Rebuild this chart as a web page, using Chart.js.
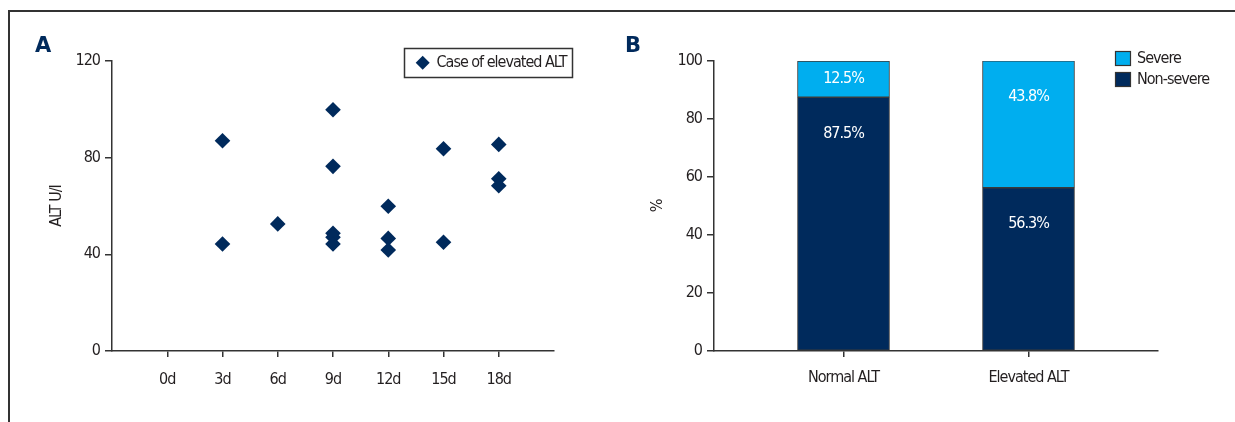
<!DOCTYPE html>
<html>
<head>
<meta charset="utf-8">
<script src="https://cdn.jsdelivr.net/npm/chart.js@4/dist/chart.umd.min.js"></script>
<style>
  html, body { margin: 0; padding: 0; background: #fff; }
  body { width: 1235px; height: 422px; position: relative; overflow: hidden; }
  #frame { position: absolute; left: 8px; top: 10px; width: 1240px; height: 430px;
           border-top: 2px solid #333; border-left: 2px solid #333; }
  .panel { position: absolute; top: 0; height: 422px; }
  #wa { left: 0; width: 620px; }
  #wb { left: 620px; width: 615px; }
</style>
</head>
<body>
<div id="frame"></div>
<div class="panel" id="wa"><canvas id="ca" width="620" height="422"></canvas></div>
<div class="panel" id="wb"><canvas id="cb" width="615" height="422"></canvas></div>
<script>
// ---- Panel A: ALT values of elevated cases by day ----
const dayValues = [0, 3, 6, 9, 12, 15, 18];
const dayTicks = ['0d', '3d', '6d', '9d', '12d', '15d', '18d'];
const caseDay = [3, 3, 6, 9, 9, 9, 9, 9, 12, 12, 12, 15, 15, 18, 18, 18];
const caseALT = [87, 44.3, 52.6, 99.8, 76.4, 48.7, 47.1, 44.3, 59.9, 46.6, 41.8, 83.7, 45, 85.5, 71.3, 68.4];
const seriesLabelA = 'Case of elevated ALT';

// ---- Panel B: severity share by ALT group ----
const groups = ['Normal ALT', 'Elevated ALT'];
const groupPos = [0, 1];
const nonSevere = [87.5, 56.3];
const severe = [12.5, 43.8];

const FONT = "'Liberation Sans Narrow', 'Arial Narrow', 'DejaVu Sans Condensed', sans-serif";
const FSIZE = 16;
const NAVY = '#002a5c';
const CYAN = '#00aeef';
const AX = '#333333';
const TXT = '#231f20';

Chart.defaults.font.family = FONT;
Chart.defaults.font.size = FSIZE;
Chart.defaults.color = TXT;

// tighter tracking so the condensed face sits closer to a narrow sans
const tightText = {
  id: 'tightText',
  beforeDraw(chart) { if ('letterSpacing' in chart.ctx) chart.ctx.letterSpacing = '-1px'; }
};

function panelLetter(letter, x, baseline) {
  return {
    id: 'letter' + letter,
    afterDraw(chart) {
      const ctx = chart.ctx;
      ctx.save();
      if ('letterSpacing' in ctx) ctx.letterSpacing = '0px';
      ctx.font = "bold 21px 'DejaVu Sans', sans-serif";
      ctx.fillStyle = NAVY;
      ctx.textBaseline = 'alphabetic';
      ctx.textAlign = 'left';
      ctx.fillText(letter, x, baseline);
      ctx.restore();
    }
  };
}

function diamond(ctx, cx, cy, r) {
  ctx.beginPath();
  ctx.moveTo(cx - r, cy);
  ctx.lineTo(cx, cy - r);
  ctx.lineTo(cx + r, cy);
  ctx.lineTo(cx, cy + r);
  ctx.closePath();
  ctx.fill();
}

// boxed legend in the top-right corner of panel A
const legendA = {
  id: 'legendA',
  afterDraw(chart) {
    const ctx = chart.ctx;
    const ds = chart.data.datasets[0];
    ctx.save();
    ctx.strokeStyle = AX;
    ctx.lineWidth = 1.5;
    ctx.strokeRect(404.5, 48.5, 168, 29);
    ctx.fillStyle = ds.backgroundColor;
    diamond(ctx, 422.7, 62.7, 7);
    ctx.fillStyle = TXT;
    ctx.font = FSIZE + 'px ' + FONT;
    ctx.textBaseline = 'middle';
    ctx.textAlign = 'left';
    ctx.fillText(ds.label, 436.5, 63);
    ctx.restore();
  }
};

new Chart(document.getElementById('ca'), {
  type: 'scatter',
  data: {
    datasets: [{
      label: seriesLabelA,
      data: caseDay.map((d, i) => ({ x: d, y: caseALT[i] })),
      pointStyle: 'rectRot',
      pointRadius: 7.8,
      pointHoverRadius: 7.8,
      backgroundColor: NAVY,
      borderColor: NAVY,
      borderWidth: 0
    }]
  },
  options: {
    responsive: false,
    animation: false,
    events: [],
    layout: { padding: { top: 61, right: 66, bottom: 0, left: 0 } },
    plugins: { legend: { display: false }, tooltip: { enabled: false } },
    scales: {
      x: {
        type: 'linear', min: -3, max: 21,
        afterBuildTicks: ax => { ax.ticks = dayValues.map(v => ({ value: v })); },
        afterFit: ax => { ax.height = 71; },
        ticks: { callback: v => dayTicks[dayValues.indexOf(v)], padding: 13, maxRotation: 0, autoSkip: false, color: TXT },
        grid: { drawOnChartArea: false, tickLength: 6, color: AX, lineWidth: 1.5 },
        border: { color: AX, width: 1.5 }
      },
      y: {
        min: 0, max: 120,
        afterFit: ax => { ax.width = 112; },
        ticks: { stepSize: 40, padding: 5, color: TXT },
        grid: { drawOnChartArea: false, tickLength: 7, color: AX, lineWidth: 1.5 },
        border: { color: AX, width: 1.5 },
        title: { display: true, text: 'ALT U/I', color: TXT, padding: { top: 47 } }
      }
    }
  },
  plugins: [tightText, legendA, panelLetter('A', 35, 52)]
});

// legend and in-bar percentage labels for panel B
const legendB = {
  id: 'legendB',
  afterDraw(chart) {
    const ctx = chart.ctx;
    const items = [chart.data.datasets[1], chart.data.datasets[0]];
    ctx.save();
    ctx.font = FSIZE + 'px ' + FONT;
    ctx.textBaseline = 'middle';
    ctx.textAlign = 'left';
    items.forEach((ds, k) => {
      const top = 51 + k * 21;
      ctx.fillStyle = ds.backgroundColor;
      ctx.fillRect(495, top, 16, 15);
      ctx.strokeStyle = AX;
      ctx.lineWidth = 1.2;
      ctx.strokeRect(495.5, top + 0.5, 15, 14);
      ctx.fillStyle = TXT;
      ctx.fillText(ds.label, 517, top + 8);
    });
    ctx.restore();
  }
};

const barLabels = {
  id: 'barLabels',
  afterDatasetsDraw(chart) {
    const ctx = chart.ctx;
    const yScale = chart.scales.y;
    ctx.save();
    ctx.font = FSIZE + 'px ' + FONT;
    ctx.fillStyle = '#ffffff';
    ctx.textAlign = 'center';
    ctx.textBaseline = 'middle';
    chart.data.datasets.forEach((ds, di) => {
      const meta = chart.getDatasetMeta(di);
      meta.data.forEach((bar, i) => {
        const v = ds.data[i].y;
        let base = 0;
        for (let k = 0; k < di; k++) base += chart.data.datasets[k].data[i].y;
        const labelVal = base + v - Math.min(v / 2, 12.5);
        ctx.fillText(v.toFixed(1) + '%', bar.x, yScale.getPixelForValue(labelVal));
      });
    });
    ctx.restore();
  }
};

const barCommon = { barThickness: 92, borderWidth: 1, borderColor: '#3a3a3a', borderSkipped: false };

new Chart(document.getElementById('cb'), {
  type: 'bar',
  data: {
    datasets: [
      Object.assign({ label: 'Non-severe', data: groupPos.map((x, i) => ({ x, y: nonSevere[i] })), backgroundColor: NAVY }, barCommon),
      Object.assign({ label: 'Severe', data: groupPos.map((x, i) => ({ x, y: severe[i] })), backgroundColor: CYAN }, barCommon)
    ]
  },
  options: {
    responsive: false,
    animation: false,
    events: [],
    layout: { padding: { top: 61, right: 77, bottom: 0, left: 0 } },
    plugins: { legend: { display: false }, tooltip: { enabled: false } },
    scales: {
      x: {
        type: 'linear', min: -0.7, max: 1.7, stacked: true, offset: false,
        afterBuildTicks: ax => { ax.ticks = groupPos.map(v => ({ value: v })); },
        afterFit: ax => { ax.height = 71; },
        ticks: { callback: v => groups[groupPos.indexOf(v)], padding: 11, maxRotation: 0, autoSkip: false, color: TXT },
        grid: { offset: false, drawOnChartArea: false, tickLength: 6, color: AX, lineWidth: 1.5 },
        border: { color: AX, width: 1.5 }
      },
      y: {
        stacked: true, min: 0, max: 100,
        afterFit: ax => { ax.width = 94; },
        ticks: { stepSize: 20, padding: 5, color: TXT },
        grid: { drawOnChartArea: false, tickLength: 7, color: AX, lineWidth: 1.5 },
        border: { color: AX, width: 1.5 },
        title: { display: true, text: '%', color: TXT, padding: { top: 28 } }
      }
    }
  },
  plugins: [tightText, barLabels, legendB, panelLetter('B', 5, 52)]
});
</script>
</body>
</html>
